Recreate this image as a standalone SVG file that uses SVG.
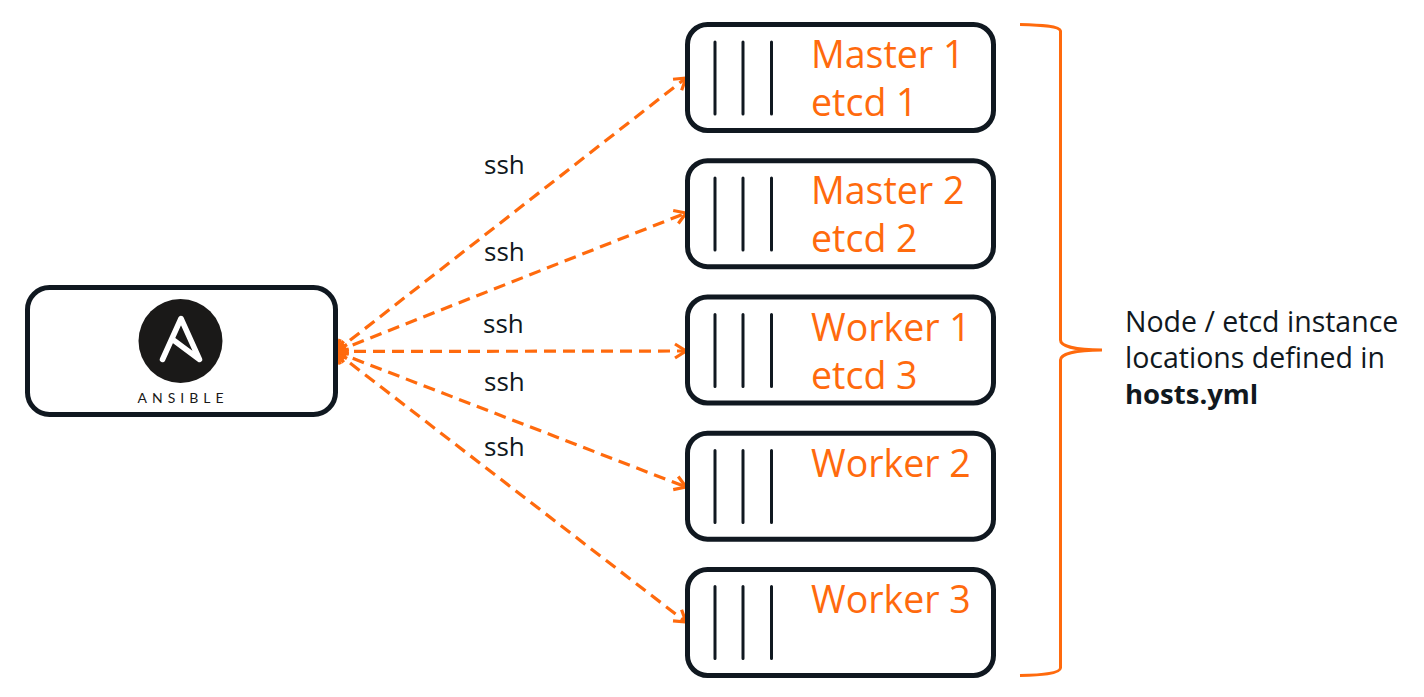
<svg xmlns="http://www.w3.org/2000/svg" width="1424" height="697" viewBox="0 0 1424 697">
<style>
.box{fill:#fff;stroke:#101820;stroke-width:5}
.bar{stroke:#101820;stroke-width:3;stroke-linecap:round;fill:none}
.lbl{font-family:"Open Sans","Noto Sans",sans-serif;font-size:37.500px;fill:#ff6a0d}
.txt{font-family:"Open Sans","Noto Sans",sans-serif;font-size:28.500px;fill:#101820}
.ssh{font-family:"Open Sans","Noto Sans",sans-serif;font-size:26px;fill:#101820}
.conn{fill:none;stroke:#ff6a0d;stroke-width:3.200;stroke-dasharray:12 7}
</style>
<defs>
<marker id="end" markerUnits="userSpaceOnUse" markerWidth="20" markerHeight="20" refX="14" refY="10" orient="auto">
<path d="M3 3L14 10L3 17" fill="none" stroke="#ff6a0d" stroke-width="3.200"/>
</marker>
<marker id="start" markerUnits="userSpaceOnUse" markerWidth="20" markerHeight="20" refX="2" refY="10" orient="auto">
<path d="M14 3L2 10L14 17" fill="none" stroke="#ff6a0d" stroke-width="3.500"/>
</marker>
<g id="bars"><path class="bar" d="M715 42V114M743 42V114M771.500 42V114"/></g>
</defs>
<g id="connectors">
<path class="conn" marker-start="url(#start)" marker-end="url(#end)" d="M335 352L686 78"/>
<path class="conn" marker-start="url(#start)" marker-end="url(#end)" d="M335 352L686 213"/>
<path class="conn" marker-start="url(#start)" marker-end="url(#end)" d="M335 351.500L686 351"/>
<path class="conn" marker-start="url(#start)" marker-end="url(#end)" d="M335 351.500L686 487"/>
<path class="conn" marker-start="url(#start)" marker-end="url(#end)" d="M335 351.500L686 622"/>
</g>
<g id="ansible">
<rect class="box" x="27.500" y="287.500" width="308" height="127" rx="22"/>
<circle cx="180.500" cy="341" r="42" fill="#1a1918"/>
<path d="M162.500 359.500L181 318.500L199.500 359.500L172 339" fill="none" stroke="#fff" stroke-width="5.500" stroke-linejoin="round" stroke-linecap="round"/>
<text x="183" y="403" text-anchor="middle" font-family="Lato,sans-serif" font-size="14" letter-spacing="5" fill="#1a1918">ANSIBLE</text>
</g>
<g id="master1">
<rect class="box" x="687.500" y="24.500" width="306" height="106" rx="20"/>
<use href="#bars"/>
<text class="lbl" x="811" y="68">Master 1</text>
<text class="lbl" x="811" y="116">etcd 1</text>
</g>
<g id="master2">
<rect class="box" x="687.500" y="160.700" width="306" height="106" rx="20"/>
<use href="#bars" y="136"/>
<text class="lbl" x="811" y="204">Master 2</text>
<text class="lbl" x="811" y="252">etcd 2</text>
</g>
<g id="worker1">
<rect class="box" x="687.500" y="297" width="306" height="106" rx="20"/>
<use href="#bars" y="272.500"/>
<text class="lbl" x="811" y="341">Worker 1</text>
<text class="lbl" x="811" y="389">etcd 3</text>
</g>
<g id="worker2">
<rect class="box" x="687.500" y="433.200" width="306" height="106" rx="20"/>
<use href="#bars" y="408.500"/>
<text class="lbl" x="811" y="477">Worker 2</text>
</g>
<g id="worker3">
<rect class="box" x="687.500" y="569.500" width="306" height="106" rx="20"/>
<use href="#bars" y="544.500"/>
<text class="lbl" x="811" y="613">Worker 3</text>
</g>
<g id="labels">
<text class="ssh" x="484" y="174">ssh</text>
<text class="ssh" x="484" y="261">ssh</text>
<text class="ssh" x="483" y="333">ssh</text>
<text class="ssh" x="484" y="391">ssh</text>
<text class="ssh" x="484" y="456">ssh</text>
</g>
<g id="brace">
<path d="M1020 24.500C1040 25 1060 26 1060.500 31V340C1060.500 346 1075 350 1102 350C1075 350 1060.500 354 1060.500 360V668C1060 674 1040 675 1020 675.500" fill="none" stroke="#ff6a0d" stroke-width="3"/>
</g>
<g id="note">
<text class="txt" x="1125" y="332">Node / etcd instance</text>
<text class="txt" x="1125" y="368">locations defined in</text>
<text class="txt" x="1125" y="404" font-weight="700" style="font-size:27.500px">hosts.yml</text>
</g>
</svg>
